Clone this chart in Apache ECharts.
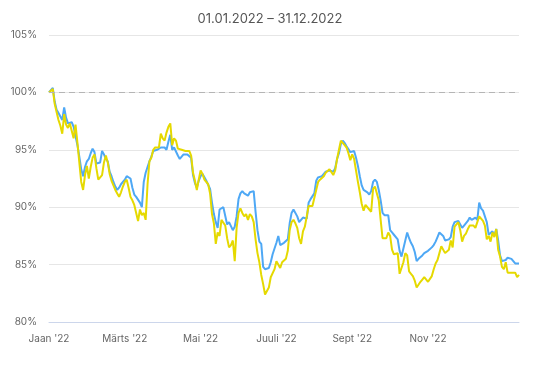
<!DOCTYPE html>
<html>
<head>
<meta charset="utf-8">
<script src="https://cdn.jsdelivr.net/npm/echarts@6/dist/echarts.min.js"></script>
<style>
html,body{margin:0;padding:0;background:#fff;}
#chart{width:540px;height:368px;}
</style>
</head>
<body>
<div id="chart"></div>
<script>
var titleText = "01.01.2022 – 31.12.2022";
var xTickLabels = ["Jaan '22", "Märts '22", "Mai '22", "Juuli '22", "Sept '22", "Nov '22"];
var xTickStep = 40;
var yTicks = [80, 85, 90, 95, 100, 105];
var baseLine = 100;

var blueValues = [
100.0,100.1,100.4,99.2,98.5,98.2,97.9,97.6,98.7,97.8,
97.3,97.2,97.4,97.0,96.2,95.4,94.4,93.3,92.7,93.5,
94.0,94.2,94.7,95.1,94.8,93.8,93.7,93.9,94.9,94.6,
94.2,94.0,93.1,92.7,92.2,91.8,91.5,91.7,92.0,92.2,
92.4,92.7,92.8,92.5,91.7,91.1,90.9,91.0,90.4,90.0,
92.2,93.0,93.5,94.0,94.4,94.9,94.9,95.0,95.1,95.2,
95.3,95.2,95.0,95.7,96.3,95.0,95.2,95.2,94.5,94.2,
94.3,94.6,94.6,94.6,94.6,94.3,92.8,92.1,91.7,92.3,
92.7,92.9,92.6,92.3,92.4,91.6,90.4,89.4,88.7,88.2,
89.8,89.9,90.0,90.1,88.5,88.7,88.8,88.0,88.3,89.2,
90.7,91.2,91.4,91.2,91.1,91.0,91.3,91.4,91.4,89.6,
88.0,87.0,86.8,84.8,84.6,84.6,84.7,85.2,85.9,86.4,
86.9,87.5,86.7,86.7,86.9,87.0,87.2,88.6,89.5,89.8,
89.7,89.2,88.7,88.9,89.1,89.1,89.0,90.4,90.7,90.6,
91.2,92.3,92.6,92.7,92.7,92.8,93.1,93.1,93.2,93.3,
93.1,93.4,94.2,94.7,95.5,95.8,95.6,95.3,95.2,94.8,
94.8,94.9,94.3,93.6,92.7,91.9,91.5,91.4,91.3,91.1,
91.4,92.2,92.4,92.2,91.5,90.6,89.5,89.3,89.2,89.3,
88.0,87.8,87.6,87.6,87.2,86.2,85.7,85.7,87.1,87.8,
87.3,86.9,86.6,86.1,85.3,85.5,85.5,85.8,86.0,86.0,
86.2,86.2,86.5,86.7,87.0,87.4,87.8,87.8,87.5,87.1,
87.1,87.2,87.4,88.3,88.7,88.7,88.8,88.8,88.2,88.4,
88.5,88.8,89.1,88.9,88.9,89.1,88.9,90.4,89.9,89.7,
89.6,88.7,87.6,87.6,87.9,87.5,88.1,87.1,85.8,85.3,
85.2,85.4,85.6,85.5,85.5,85.4,85.1,85.1,85.1
];

var yellowValues = [
100.0,100.0,100.3,99.0,98.3,97.6,97.1,96.4,98.1,97.2,
96.9,97.3,97.2,96.0,97.2,95.6,93.9,92.2,91.5,92.8,
93.6,92.5,93.5,94.3,94.6,93.4,92.4,92.6,92.8,93.9,
94.5,93.9,92.9,92.3,91.9,91.5,91.2,90.9,91.3,91.8,
92.2,92.4,91.7,90.9,90.6,90.2,90.2,88.8,89.8,89.3,
89.5,88.9,92.0,94.0,94.3,95.0,95.2,95.3,95.2,96.4,
96.0,95.8,96.5,97.0,97.3,95.4,96.0,95.8,95.1,95.0,
95.0,95.0,94.9,94.9,94.9,94.5,93.0,92.3,91.5,92.4,
93.2,92.9,92.4,92.3,92.0,91.2,89.4,88.6,86.8,87.8,
87.5,88.9,88.8,88.4,87.3,86.5,86.7,87.1,85.3,88.2,
89.5,89.9,89.5,89.2,89.4,88.9,89.4,89.2,88.7,87.2,
86.0,85.2,84.1,83.3,82.4,82.7,83.0,83.9,84.0,84.6,
85.3,85.4,84.7,85.2,85.3,85.5,86.2,88.0,88.7,88.9,
88.6,88.2,87.3,86.8,87.9,88.3,89.2,90.1,90.2,90.1,
90.0,91.5,92.2,92.4,92.5,92.7,93.0,92.9,93.3,93.4,
92.8,93.2,94.2,95.0,95.8,95.8,95.4,95.2,94.7,94.1,
94.6,94.2,93.2,92.2,91.3,90.3,89.7,90.2,90.1,89.8,
89.6,91.6,91.8,91.7,90.6,88.9,87.3,87.3,87.3,87.8,
87.5,86.3,85.9,85.9,86.0,84.2,84.2,85.2,86.0,85.8,
84.4,84.2,84.0,83.6,83.0,83.1,83.5,83.7,83.9,83.9,
83.5,83.4,84.0,84.6,85.1,85.4,86.0,86.6,86.6,86.0,
85.9,86.3,87.1,86.5,88.3,88.4,88.7,88.0,87.0,87.5,
87.7,88.1,88.4,88.5,88.4,88.2,88.1,89.2,89.3,88.8,
88.4,87.2,87.5,87.0,87.8,87.4,88.1,86.3,85.7,84.8,
84.6,85.2,84.3,84.3,84.3,84.3,84.3,83.9,84.1
];

var chart = echarts.init(document.getElementById('chart'), null, {renderer: 'canvas'});
function pairs(arr){ return arr.map(function(v, i){ return [i, v]; }); }
var lastIndex = blueValues.length - 1;

chart.setOption({
  animation: false,
  backgroundColor: '#ffffff',
  textStyle: {fontFamily: 'Inter, "Noto Sans", sans-serif'},
  title: {
    text: titleText,
    left: 'center',
    top: 8,
    textStyle: {fontSize: 13, fontWeight: 'normal', color: '#555555', fontFamily: 'Inter, "Noto Sans", sans-serif'}
  },
  grid: {left: 49, right: 21, top: 35, bottom: 46, containLabel: false},
  xAxis: {
    type: 'value',
    min: 0,
    max: lastIndex,
    interval: xTickStep,
    axisLine: {show: true, lineStyle: {color: '#ccd6eb', width: 1}},
    axisTick: {show: false},
    splitLine: {show: false},
    axisLabel: {
      margin: 12,
      fontSize: 10,
      color: '#666666',
      showMaxLabel: false,
      formatter: function(v){
        if (v % xTickStep !== 0) return '';
        var k = v / xTickStep;
        return xTickLabels[k] || '';
      }
    }
  },
  yAxis: {
    type: 'value',
    min: yTicks[0],
    max: yTicks[yTicks.length - 1],
    interval: 5,
    axisLine: {show: false},
    axisTick: {show: false},
    splitLine: {show: true, lineStyle: {color: '#e6e6e6', width: 1}},
    axisLabel: {margin: 12, fontSize: 10, color: '#666666', formatter: function(v){ return v + '%'; }}
  },
  series: [
    {
      name: 'Sinine',
      type: 'line',
      data: pairs(blueValues),
      showSymbol: false,
      symbol: 'none',
      lineStyle: {color: '#4ea8f5', width: 2},
      itemStyle: {color: '#4ea8f5'},
      z: 2,
      markLine: {
        silent: true,
        symbol: 'none',
        label: {show: false},
        lineStyle: {color: '#b5b5b5', type: [6, 4], width: 1},
        data: [{yAxis: baseLine}]
      }
    },
    {
      name: 'Kollane',
      type: 'line',
      data: pairs(yellowValues),
      showSymbol: false,
      symbol: 'none',
      lineStyle: {color: '#e5d900', width: 2},
      itemStyle: {color: '#e5d900'},
      z: 3
    }
  ]
});
</script>
</body>
</html>
